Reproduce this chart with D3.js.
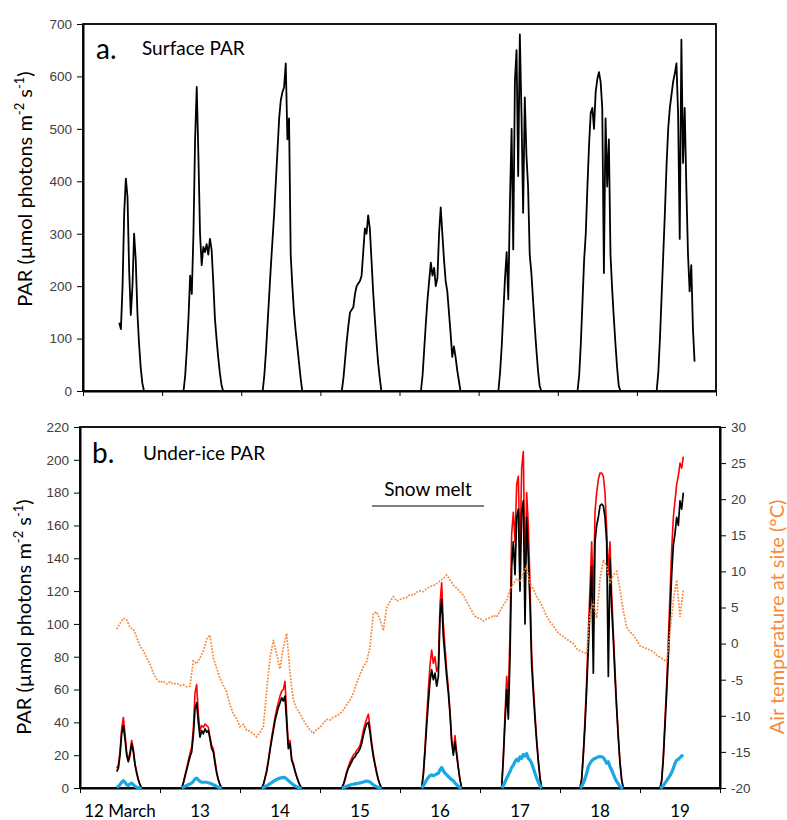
<!DOCTYPE html>
<html><head><meta charset="utf-8">
<script src="https://cdn.jsdelivr.net/npm/d3@7"></script>
<style>body{margin:0;background:#fff}svg{display:block}</style>
</head><body><svg id="c" width="787" height="820"></svg>
<script>
// ---------- data ----------
const days = [12, 13, 14, 15, 16, 17, 18, 19];
const dayLabels = ["12 March", "13", "14", "15", "16", "17", "18", "19"];
const stepHours = 0.5;

// Surface PAR (panel a), half-hourly from the start hour of each day
const surfaceStart = [11, 6.5, 6.5, 6.5, 6.5, 6, 6, 6];
const surfacePAR = [
  [130, 118, 200, 340, 405, 370, 230, 145, 200, 300, 250, 150, 90, 45, 15, 0],
  [0, 30, 80, 140, 220, 185, 300, 480, 580, 450, 300, 240, 275, 265, 280, 260, 290, 270, 210, 140, 100, 65, 35, 12, 0],
  [0, 30, 75, 130, 185, 240, 290, 340, 400, 460, 520, 555, 570, 580, 625, 480, 520, 260, 200, 150, 115, 85, 55, 25, 0],
  [0, 25, 60, 95, 125, 150, 155, 160, 185, 200, 205, 210, 220, 265, 310, 300, 335, 310, 250, 190, 140, 95, 55, 25, 0],
  [0, 30, 80, 130, 175, 210, 245, 220, 235, 200, 215, 300, 350, 300, 250, 210, 190, 150, 110, 65, 85, 65, 40, 20, 0],
  [0, 35, 85, 150, 215, 265, 175, 360, 500, 270, 590, 650, 410, 680, 530, 340, 560, 450, 390, 260, 225, 175, 125, 80, 40, 10, 0],
  [0, 30, 90, 170, 250, 300, 390, 470, 530, 540, 500, 570, 595, 608, 590, 540, 225, 520, 390, 480, 260, 195, 140, 90, 45, 10, 0],
  [0, 35, 100, 180, 260, 340, 430, 500, 540, 565, 590, 605, 625, 530, 290, 670, 435, 540, 390, 262, 190, 240, 120, 56]
];

// Under-ice PAR (panel b), half-hourly
const iceStart = [11, 6.5, 6.5, 6.5, 6.5, 6.5, 6, 6];
const iceBlack = [
  [10, 12, 20, 33, 38, 30, 20, 16, 20, 27, 22, 14, 9, 5, 2, 0],
  [0, 3, 7, 11, 15, 19, 22, 32, 48, 52, 40, 31, 35, 33, 36, 34, 35, 30, 24, 22, 15, 9, 5, 2, 0],
  [0, 2, 6, 10, 16, 23, 29, 35, 41, 45, 49, 52, 55, 53, 56, 40, 24, 27, 17, 14, 10, 7, 4, 1.5, 0],
  [0, 2, 5, 9, 12, 14, 16, 18, 19, 21, 22, 24, 27, 32, 36, 39, 40, 34, 26, 19, 14, 9, 5, 2, 0],
  [0, 8, 22, 38, 52, 65, 72, 66, 70, 62, 68, 104, 115, 92, 80, 68, 58, 45, 28, 20, 28, 20, 12, 5, 0],
  [0, 18, 40, 60, 42, 80, 135, 150, 130, 165, 170, 120, 168, 175, 100, 165, 140, 112, 75, 58, 42, 28, 16, 6, 0],
  [0, 5, 20, 38, 60, 85, 110, 135, 70, 150, 160, 165, 172, 173, 172, 165, 150, 68, 140, 110, 90, 68, 48, 30, 15, 5, 0],
  [0, 4, 18, 38, 58, 80, 105, 130, 148, 155, 165, 160, 175, 170, 180]
];
const iceRed = [
  [12, 14, 22, 36, 43, 33, 22, 17, 22, 29, 24, 15, 10, 5, 2, 0],
  [0, 3, 8, 12, 17, 21, 25, 36, 58, 63, 45, 35, 38, 37, 39, 38, 37, 31, 26, 24, 17, 10, 5, 2, 0],
  [0, 2, 6, 11, 17, 24, 31, 37, 43, 48, 52, 56, 59, 60, 65, 45, 26, 29, 18, 15, 11, 7, 4, 1.5, 0],
  [0, 2, 6, 10, 13, 16, 18, 20, 21, 23, 24, 26, 30, 35, 39, 42, 45, 37, 28, 21, 15, 10, 5, 2, 0],
  [0, 9, 25, 43, 60, 75, 84, 76, 80, 71, 74, 112, 125, 100, 86, 72, 61, 47, 30, 22, 32, 22, 13, 5, 0],
  [0, 20, 45, 68, 55, 95, 155, 168, 150, 185, 190, 140, 195, 205, 125, 180, 160, 125, 82, 62, 45, 30, 17, 7, 0],
  [0, 6, 22, 42, 66, 95, 122, 150, 115, 168, 180, 188, 192, 192, 190, 180, 158, 130, 150, 118, 95, 72, 50, 32, 16, 5, 0],
  [0, 5, 20, 42, 64, 90, 118, 145, 165, 175, 185, 190, 198, 195, 202]
];
const iceBlue = [
  [0.5, 1, 2, 3.5, 4.5, 3.5, 2, 1.5, 2.5, 3, 2, 1, 0.5, 0.2, 0, 0],
  [0, 0.5, 1, 1.5, 2, 2.5, 3, 4, 5.5, 6, 5, 4, 3.5, 3.5, 3.5, 3.5, 3.2, 3, 2.5, 2, 1.5, 1, 0.5, 0.2, 0],
  [0, 0.3, 0.8, 1.3, 2, 2.7, 3.3, 4, 4.6, 5.2, 5.7, 6, 6.3, 6.5, 6.3, 5.5, 4.5, 3.7, 2.8, 2, 1.3, 0.8, 0.4, 0.1, 0],
  [0, 0.3, 0.6, 1, 1.4, 1.8, 2.1, 2.3, 2.5, 2.7, 2.9, 3.1, 3.4, 3.7, 4, 4.2, 4.1, 3.6, 2.8, 2, 1.3, 0.8, 0.4, 0.1, 0],
  [0, 1.5, 3, 5, 6.5, 7.5, 8, 7.5, 8, 8.5, 9, 11, 12.5, 10.5, 9, 8, 7, 6, 5, 4.5, 3, 2, 1, 0.3, 0],
  [0, 1.5, 3.5, 6, 8, 10, 12.5, 14, 16, 17.5, 16.5, 19, 18, 20.5, 19.5, 21, 18, 17, 15, 12, 9, 6, 3.5, 1.5, 0],
  [0, 1, 3, 5.5, 9, 13, 15, 16.5, 17.5, 18, 18.5, 19, 19.2, 19, 18.5, 17, 15, 16, 13, 11, 8.5, 6, 4, 2.5, 1, 0.3, 0],
  [0, 0.5, 1.5, 3, 4.5, 6, 7.5, 9.5, 12, 15, 17, 17.5, 18.5, 19.5, 20]
];

// Air temperature at site (°C), hourly from 12 March 11:00
const tempStartDay = 12 + 11 / 24;
const tempStepHours = 1;
const airTemp = [
  2.0, 2.8, 3.5, 3.3, 2.2, 2.0, 0.9, -0.4, -1.0, -2.0,
  -2.8, -4.1, -4.9, -5.4, -5.2, -5.6, -5.3, -5.6, -5.5, -5.8,
  -5.7, -6.0, -5.9, -2.4, -2.8, -2.0, -1.0, 0.6, 1.2, -2.0,
  -3.4, -4.8, -5.8, -6.7, -8.5, -9.7, -10.4, -11.5, -11.2, -12.0,
  -12.1, -12.5, -12.9, -12.3, -11.5, -6.5, -2.0, 0.5, -1.5, -3.5,
  -0.5, 1.4, -4.0, -7.8, -9.0, -9.7, -10.6, -11.3, -12.0, -12.4,
  -11.9, -11.6, -11.0, -10.5, -10.6, -10.2, -10.0, -9.7, -9.2, -8.5,
  -7.8, -6.9, -5.5, -4.3, -3.2, -2.5, -0.5, 4.2, 4.4, 3.3,
  1.8, 5.0, 5.8, 6.5, 5.9, 6.1, 6.3, 6.4, 6.8, 6.7,
  7.1, 7.3, 7.2, 7.6, 7.9, 8.0, 8.3, 8.7, 9.0, 9.5,
  8.8, 8.1, 7.7, 7.2, 6.7, 5.8, 5.0, 4.1, 3.6, 3.5,
  3.1, 3.4, 3.6, 3.9, 3.7, 4.5, 5.3, 6.0, 7.5, 8.3,
  9.0, 8.6, 9.8, 10.7, 8.2, 7.6, 6.5, 5.8, 4.8, 3.8,
  3.0, 2.5, 1.7, 1.3, 1.0, 0.6, 0.3, 0.0, -0.7, -1.0,
  -1.2, -1.4, 4.2, 5.6, 3.5, 9.0, 11.6, 10.7, 8.5, 9.5,
  10.0, 7.5, 4.5, 2.3, 1.6, 1.2, 0.5, -0.3, -0.5, -0.7,
  -0.9, -1.1, -1.6, -1.9, -2.2, -2.5, 1.5, 6.0, 8.8, 3.7,
  7.5
];

const dayBoundaries = [12, 13, 14, 15, 16, 17, 18, 19, 20];
const topTicks = [0, 100, 200, 300, 400, 500, 600, 700];
const leftTicks = [0, 20, 40, 60, 80, 100, 120, 140, 160, 180, 200, 220];
const rightTicks = [-20, -15, -10, -5, 0, 5, 10, 15, 20, 25, 30];
const snowMelt = [15.65, 17.05];

// ---------- drawing ----------
const svg = d3.select("#c");
const tickFont = "'Liberation Sans', Arial, sans-serif";
const textFont = "Lato, 'Open Sans', sans-serif";

const xTop = d3.scaleLinear([12, 20], [83, 716]);
const yTop = d3.scaleLinear([0, 700], [391, 24]);
const xBot = d3.scaleLinear([12, 20], [80, 720]);
const yBot = d3.scaleLinear([0, 220], [788, 427]);
const yTemp = d3.scaleLinear([-20, 30], [788, 427]);

function dayPoints(starts, vals) {
  return days.map((d, k) => vals[k].map((v, i) => [d + (starts[k] + i * stepHours) / 24, v]));
}
function styleAxis(g) {
  g.selectAll("text").attr("font-family", tickFont).attr("font-size", 13.5).attr("fill", "#404040");
  g.selectAll(".tick line").attr("stroke", "#000").attr("stroke-width", 1);
  g.select(".domain").attr("stroke", "#000").attr("stroke-width", 2);
}

// ===== Panel a =====
svg.append("rect").attr("x", xTop(12)).attr("y", yTop(700))
  .attr("width", xTop(20) - xTop(12)).attr("height", yTop(0) - yTop(700))
  .attr("fill", "none").attr("stroke", "#000").attr("stroke-width", 1.8);

svg.append("g").attr("transform", `translate(${xTop(12)},0)`)
  .call(d3.axisLeft(yTop).tickValues(topTicks).tickSize(6).tickSizeOuter(0).tickPadding(5))
  .call(styleAxis);
svg.append("g").attr("transform", `translate(0,${yTop(0)})`)
  .call(d3.axisBottom(xTop).tickValues(dayBoundaries).tickFormat("").tickSize(5).tickSizeOuter(0))
  .call(styleAxis);

const lineTop = d3.line().x(d => xTop(d[0])).y(d => yTop(d[1]));
svg.append("g").selectAll("path").data(dayPoints(surfaceStart, surfacePAR)).join("path")
  .attr("d", lineTop).attr("fill", "none").attr("stroke", "#000").attr("stroke-width", 1.8)
  .attr("stroke-linejoin", "round");

svg.append("text").attr("x", 96).attr("y", 59).attr("font-family", textFont).attr("font-size", 28).text("a.");
svg.append("text").attr("x", 142).attr("y", 55).attr("font-family", textFont).attr("font-size", 19).text("Surface PAR");

function parTitle(x, y) {
  const t = svg.append("text").attr("transform", `translate(${x},${y}) rotate(-90)`)
    .attr("text-anchor", "middle").attr("font-family", textFont).attr("font-size", 20).attr("fill", "#000");
  t.append("tspan").text("PAR (\u00b5mol photons m");
  t.append("tspan").attr("font-size", 13).attr("dy", -8).text("-2");
  t.append("tspan").attr("dy", 8).text(" s");
  t.append("tspan").attr("font-size", 13).attr("dy", -8).text("-1");
  t.append("tspan").attr("dy", 8).text(")");
}
parTitle(32, 189);

// ===== Panel b =====
svg.append("rect").attr("x", xBot(12)).attr("y", yBot(220))
  .attr("width", xBot(20) - xBot(12)).attr("height", yBot(0) - yBot(220))
  .attr("fill", "none").attr("stroke", "#000").attr("stroke-width", 1.8);

svg.append("g").attr("transform", `translate(${xBot(12)},0)`)
  .call(d3.axisLeft(yBot).tickValues(leftTicks).tickSize(6).tickSizeOuter(0).tickPadding(5))
  .call(styleAxis);
svg.append("g").attr("transform", `translate(${xBot(20)},0)`)
  .call(d3.axisRight(yTemp).tickValues(rightTicks).tickFormat(d => String(d)).tickSize(6).tickSizeOuter(0).tickPadding(5))
  .call(styleAxis);
svg.append("g").attr("transform", `translate(0,${yBot(0)})`)
  .call(d3.axisBottom(xBot).tickValues(dayBoundaries).tickFormat("").tickSize(5).tickSizeOuter(0))
  .call(styleAxis);

svg.append("g").selectAll("text").data(days).join("text")
  .attr("x", (d, i) => xBot(d + 0.5)).attr("y", 817)
  .attr("text-anchor", "middle").attr("font-family", textFont).attr("font-size", 17).attr("fill", "#000")
  .text((d, i) => dayLabels[i]);

const lineBot = d3.line().x(d => xBot(d[0])).y(d => yBot(d[1]));
svg.append("g").selectAll("path").data(dayPoints(iceStart, iceRed)).join("path")
  .attr("d", lineBot).attr("fill", "none").attr("stroke", "#ff0000").attr("stroke-width", 1.6).attr("stroke-linejoin", "round");
svg.append("g").selectAll("path").data(dayPoints(iceStart, iceBlack)).join("path")
  .attr("d", lineBot).attr("fill", "none").attr("stroke", "#000").attr("stroke-width", 1.7).attr("stroke-linejoin", "round");
svg.append("g").selectAll("path").data(dayPoints(iceStart, iceBlue)).join("path")
  .attr("d", lineBot).attr("fill", "none").attr("stroke", "#1aa7e4").attr("stroke-width", 3.2).attr("stroke-linejoin", "round");

const tempPts = airTemp.map((v, i) => [tempStartDay + i * tempStepHours / 24, v]);
svg.append("path").datum(tempPts)
  .attr("d", d3.line().x(d => xBot(d[0])).y(d => yTemp(d[1])))
  .attr("fill", "none").attr("stroke", "#f7893b").attr("stroke-width", 1.7).attr("stroke-dasharray", "1.8,1.4");

svg.append("text").attr("x", 92).attr("y", 463).attr("font-family", textFont).attr("font-size", 28).text("b.");
svg.append("text").attr("x", 143).attr("y", 460).attr("font-family", textFont).attr("font-size", 19).text("Under-ice PAR");

svg.append("line").attr("x1", xBot(snowMelt[0])).attr("x2", xBot(snowMelt[1])).attr("y1", 506).attr("y2", 506)
  .attr("stroke", "#555").attr("stroke-width", 1.5);
svg.append("text").attr("x", (xBot(snowMelt[0]) + xBot(snowMelt[1])) / 2).attr("y", 496).attr("text-anchor", "middle")
  .attr("font-family", textFont).attr("font-size", 19).text("Snow melt");

parTitle(31, 617);
svg.append("text").attr("transform", "translate(784,617) rotate(-90)").attr("text-anchor", "middle")
  .attr("font-family", textFont).attr("font-size", 20).attr("fill", "#f7893b").text("Air temperature at site (\u00b0C)");
</script></body></html>
